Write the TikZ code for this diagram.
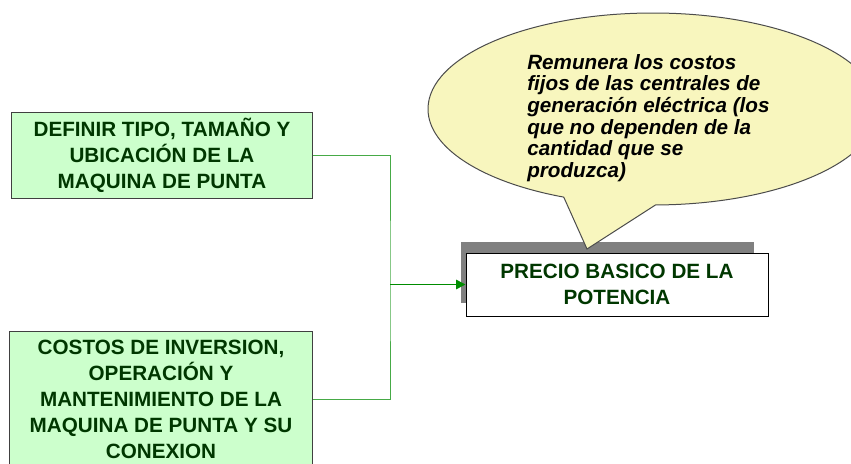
\documentclass[tikz,border=0pt]{standalone}
\usepackage{fontspec}
\setmainfont{Liberation Sans}
\usepackage{xcolor}
\usetikzlibrary{shapes.callouts, shadows, arrows.meta, positioning, calc}

\definecolor{boxgreen}{RGB}{204,255,204}
\definecolor{textgreen}{RGB}{0,55,0}
\definecolor{linkgreen}{RGB}{70,170,70}
\definecolor{arrowgreen}{RGB}{0,140,0}
\definecolor{bubblefill}{RGB}{248,246,190}

\tikzset{
  greenbox/.style={draw=black!75, fill=boxgreen, line width=0.75pt, align=center,
    text=textgreen, font=\fontsize{15.5}{19.5}\selectfont\bfseries},
  pricebox/.style={draw=black, fill=white, line width=0.75pt, align=center,
    text=textgreen, font=\fontsize{15.5}{19}\selectfont\bfseries,
    drop shadow={shadow xshift=-7.5pt, shadow yshift=9pt, shadow scale=0.97,
      fill=black!50, opacity=1}},
  tie/.style={draw=linkgreen, line width=0.75pt},
  tiearrow/.style={draw=arrowgreen, line width=1.1pt,
    -{Triangle[length=7pt, width=7pt]}}
}

\begin{document}
\begin{tikzpicture}[x=0.75pt, y=-0.75pt]
\path[use as bounding box, clip] (0,0) rectangle (851,464);

% Inputs on the left
\node[greenbox, minimum width=225.75pt, minimum height=64.5pt, anchor=east] (tipo) at (313,155)
  {DEFINIR TIPO, TAMAÑO Y\\UBICACIÓN DE LA\\MAQUINA DE PUNTA};
\node[greenbox, minimum width=227.25pt, minimum height=102pt, anchor=east] (costos) at (313,399)
  {COSTOS DE INVERSION,\\OPERACIÓN Y\\MANTENIMIENTO DE LA\\MAQUINA DE PUNTA Y SU\\CONEXION};

% Result
\node[pricebox, minimum width=226.5pt, minimum height=47.25pt] (precio) at (617,284.5)
  {PRECIO BASICO DE LA\\POTENCIA};

% Connectors
\coordinate (joint) at (390,284.5);
\draw[tie] (tipo.east) -| (joint) |- (costos.east);
\draw[tiearrow] (joint) -- (precio.west);

% Note bubble
\coordinate (tip) at (587,249);
\node[ellipse callout, draw=black!70, fill=bubblefill, line width=0.75pt,
  minimum width=337.5pt, minimum height=144pt,
  callout absolute pointer=(tip), callout pointer arc=24] (bubble) at (653,109) {};
\node[anchor=north west, inner sep=0pt, align=left,
  font=\fontsize{15.5}{16.2}\selectfont\bfseries\itshape] (nota) at (527,54)
  {Remunera los costos\\fijos de las centrales de\\generación eléctrica (los\\que no dependen de la\\cantidad que se\\produzca)};
\end{tikzpicture}
\end{document}
